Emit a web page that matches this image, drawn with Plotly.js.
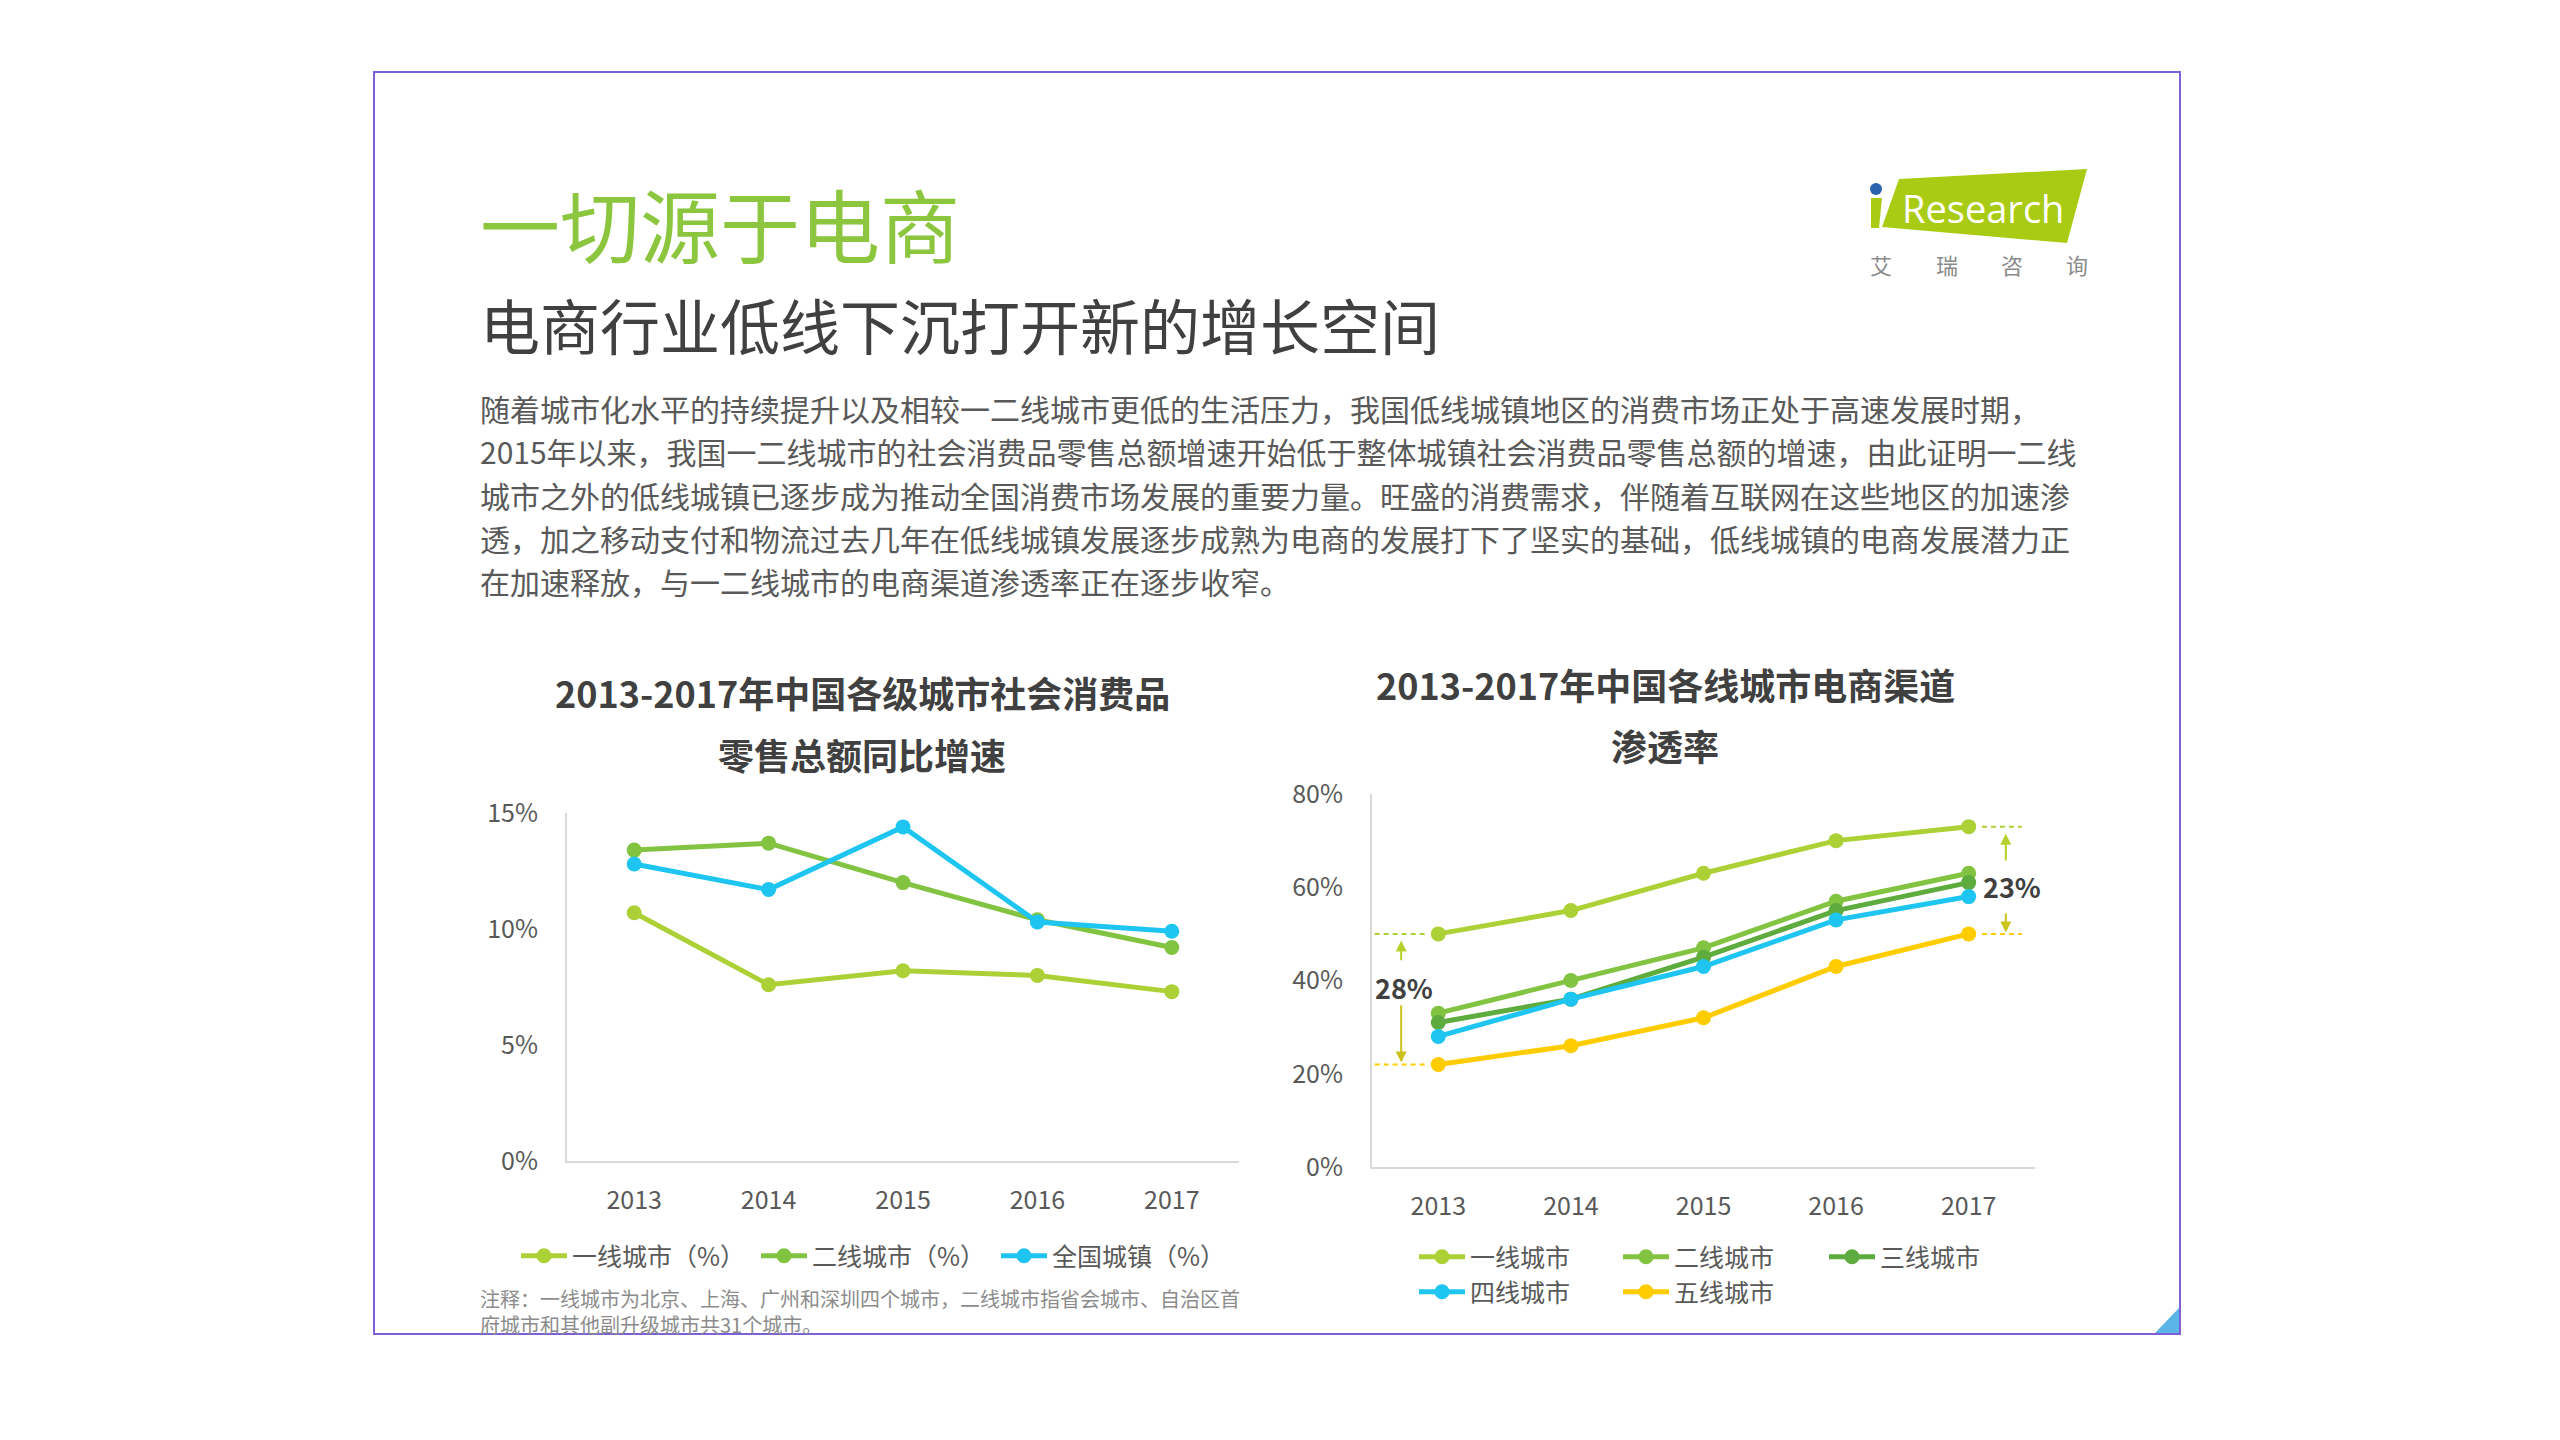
<!DOCTYPE html>
<html>
<head>
<meta charset="utf-8">
<script src="https://cdn.plot.ly/plotly-3.0.1.min.js"></script>
<style>
html,body{margin:0;padding:0;background:#ffffff;}
#chart{width:2560px;height:1440px;}
</style>
</head>
<body>
<div id="chart"></div>
<script>
// ---------- data ----------
const years = ['2013', '2014', '2015', '2016', '2017'];

// left chart: retail sales YoY growth (%)
const retailNames = ['一线城市（%）', '二线城市（%）', '全国城镇（%）'];
const retailTier1 = [10.7, 7.6, 8.2, 8.0, 7.3];
const retailTier2 = [13.4, 13.7, 12.0, 10.4, 9.2];
const retailNational = [12.8, 11.7, 14.4, 10.3, 9.9];

// right chart: e-commerce channel penetration (%)
const penNames = ['一线城市', '二线城市', '三线城市', '四线城市', '五线城市'];
const penTier1 = [50, 55, 63, 70, 73];
const penTier2 = [33, 40, 47, 57, 63];
const penTier3 = [31, 36, 45, 55, 61];
const penTier4 = [28, 36, 43, 53, 58];
const penTier5 = [22, 26, 32, 43, 50];

const leftTicks = [0, 5, 10, 15];
const rightTicks = [0, 20, 40, 60, 80];

// ---------- text ----------
const mainTitle = '一切源于电商';
const subTitle = '电商行业低线下沉打开新的增长空间';
const paragraph = [
  '随着城市化水平的持续提升以及相较一二线城市更低的生活压力，我国低线城镇地区的消费市场正处于高速发展时期，',
  '2015年以来，我国一二线城市的社会消费品零售总额增速开始低于整体城镇社会消费品零售总额的增速，由此证明一二线',
  '城市之外的低线城镇已逐步成为推动全国消费市场发展的重要力量。旺盛的消费需求，伴随着互联网在这些地区的加速渗',
  '透，加之移动支付和物流过去几年在低线城镇发展逐步成熟为电商的发展打下了坚实的基础，低线城镇的电商发展潜力正',
  '在加速释放，与一二线城市的电商渠道渗透率正在逐步收窄。'
];
const leftTitle = ['2013-2017年中国各级城市社会消费品', '零售总额同比增速'];
const rightTitle = ['2013-2017年中国各线城市电商渠道', '渗透率'];
const footnote = [
  '注释：一线城市为北京、上海、广州和深圳四个城市，二线城市指省会城市、自治区首',
  '府城市和其他副升级城市共31个城市。'
];
const logoChars = ['艾', '瑞', '咨', '询'];

// ---------- helpers ----------
const W = 2560, H = 1440;
const X = v => v / W;
const Y = v => 1 - v / H;
const FONT = '"Noto Sans CJK SC", "Noto Sans", sans-serif';

const C1 = '#acd136', C2 = '#82c341', C3 = '#5eab3e', C4 = '#1ec5f0', C5 = '#ffcc00';

function mkTrace(y, name, color, xa, ya, legend) {
  return {
    x: years, y: y, name: name, type: 'scatter', mode: 'lines+markers',
    xaxis: xa, yaxis: ya, legend: legend,
    line: {color: color, width: 5},
    marker: {color: color, size: 15},
    cliponaxis: false,
    hoverinfo: 'skip'
  };
}

const data = [
  mkTrace(retailTier1, retailNames[0], C1, 'x', 'y', 'legend'),
  mkTrace(retailTier2, retailNames[1], C2, 'x', 'y', 'legend2'),
  mkTrace(retailNational, retailNames[2], C4, 'x', 'y', 'legend3'),
  mkTrace(penTier1, penNames[0], C1, 'x2', 'y2', 'legend4'),
  mkTrace(penTier2, penNames[1], C2, 'x2', 'y2', 'legend5'),
  mkTrace(penTier3, penNames[2], C3, 'x2', 'y2', 'legend6'),
  mkTrace(penTier4, penNames[3], C4, 'x2', 'y2', 'legend7'),
  mkTrace(penTier5, penNames[4], C5, 'x2', 'y2', 'legend8')
];

function mkLegend(sx, cy) {
  return {
    x: X(sx), xanchor: 'left', y: Y(cy), yanchor: 'middle',
    orientation: 'h', bgcolor: 'rgba(0,0,0,0)', borderwidth: 0,
    font: {family: FONT, size: 25, color: '#595959'},
    itemwidth: 46
  };
}

const axisCommon = {
  showline: true, linecolor: '#d9d9d9', linewidth: 2,
  showgrid: false, zeroline: false, ticks: '',
  tickfont: {family: FONT, size: 25, color: '#595959'},
  fixedrange: true
};

const annotations = [];
function txt(x, y, text, size, color, opts) {
  annotations.push(Object.assign({
    xref: 'paper', yref: 'paper', x: X(x), y: Y(y), text: text,
    showarrow: false, xanchor: 'left', yanchor: 'middle',
    font: {family: FONT, size: size, color: color}
  }, opts || {}));
}

txt(478, 222, mainTitle, 80, '#8cc63f');
txt(478, 323, subTitle, 60, '#404040');
const paraY = [408, 451, 495, 538, 581];
paragraph.forEach((l, i) => txt(478, paraY[i], l, 30, '#595959'));
txt(862, 692, '<b>' + leftTitle[0] + '</b>', 36, '#404040', {xanchor: 'center'});
txt(862, 754, '<b>' + leftTitle[1] + '</b>', 36, '#404040', {xanchor: 'center'});
txt(1665, 684, '<b>' + rightTitle[0] + '</b>', 36, '#404040', {xanchor: 'center'});
txt(1665, 745, '<b>' + rightTitle[1] + '</b>', 36, '#404040', {xanchor: 'center'});
txt(478, 1311, footnote.join('<br>'), 20, '#8c8c8c', {align: 'left'});

// logo text
txt(1983, 208, 'Research', 38, '#ffffff', {xanchor: 'center', font: {family: '"Open Sans", sans-serif', size: 38, color: '#ffffff'}});
const logoX = [1881, 1947, 2012, 2077];
logoChars.forEach((c, i) => txt(logoX[i], 264, c, 22, '#8a8a8a', {xanchor: 'center'}));

// gap annotations in right chart (derived from data)
const gapStart = penTier1[0] - penTier5[0];
const gapEnd = penTier1[4] - penTier5[4];
const upCol = '#b7cf2b', downCol = '#cbc21c';
function arrow(x, yHead, yTail, col) {
  annotations.push({
    xref: 'x2', yref: 'y2', axref: 'x2', ayref: 'y2',
    x: x, y: yHead, ax: x, ay: yTail, text: '',
    showarrow: true, arrowhead: 2, arrowsize: 1.1, arrowwidth: 2, arrowcolor: col
  });
}
arrow(-0.28, penTier1[0] - 1.4, penTier1[0] - 6, upCol);
arrow(-0.28, penTier5[0] + 0.4, penTier5[0] + 13, downCol);
annotations.push({
  xref: 'x2', yref: 'y2', x: -0.26, y: (penTier1[0] + penTier5[0]) / 2 + 2.6,
  text: '<b>' + gapStart + '%</b>', showarrow: false, xanchor: 'center', yanchor: 'middle',
  font: {family: FONT, size: 27, color: '#404040'}
});
arrow(4.28, penTier1[4] - 1.5, penTier1[4] - 7.6, upCol);
arrow(4.28, penTier5[4] + 0.3, penTier5[4] + 4.7, downCol);
annotations.push({
  xref: 'x2', yref: 'y2', x: 4.33, y: (penTier1[4] + penTier5[4]) / 2 - 1.3,
  text: '<b>' + gapEnd + '%</b>', showarrow: false, xanchor: 'center', yanchor: 'middle',
  font: {family: FONT, size: 27, color: '#404040'}
});

function pth(pts) {
  return 'M ' + pts.map(p => X(p[0]) + ',' + Y(p[1])).join(' L ') + ' Z';
}

const shapes = [
  // frame
  {type: 'rect', xref: 'paper', yref: 'paper', x0: X(374), x1: X(2180), y0: Y(1334), y1: Y(72),
   line: {color: '#7d5fd8', width: 2}, fillcolor: 'rgba(0,0,0,0)'},
  // corner triangle
  {type: 'path', xref: 'paper', yref: 'paper', path: pth([[2155, 1333], [2179, 1308], [2179, 1333]]),
   fillcolor: '#5ab4e5', line: {width: 0}},
  // logo
  {type: 'path', xref: 'paper', yref: 'paper', path: pth([[1899, 179], [2087, 169], [2067, 243], [1882, 227]]),
   fillcolor: '#aacb13', line: {width: 0}},
  {type: 'path', xref: 'paper', yref: 'paper', path: pth([[1871, 198], [1882, 198], [1879, 228], [1871, 228]]),
   fillcolor: '#aacb13', line: {width: 0}},
  {type: 'circle', xref: 'paper', yref: 'paper', x0: X(1870), x1: X(1882), y0: Y(195), y1: Y(183),
   fillcolor: '#2a62ad', line: {width: 0}},
  // dashed guide lines at gap endpoints (from data)
  {type: 'line', xref: 'x2', yref: 'y2', x0: -0.48, x1: -0.1, y0: penTier1[0], y1: penTier1[0],
   line: {color: C1, width: 2, dash: '5px,4px'}},
  {type: 'line', xref: 'x2', yref: 'y2', x0: -0.48, x1: -0.1, y0: penTier5[0], y1: penTier5[0],
   line: {color: C5, width: 2, dash: '5px,4px'}},
  {type: 'line', xref: 'x2', yref: 'y2', x0: 4.1, x1: 4.4, y0: penTier1[4], y1: penTier1[4],
   line: {color: C1, width: 2, dash: '5px,4px'}},
  {type: 'line', xref: 'x2', yref: 'y2', x0: 4.1, x1: 4.4, y0: penTier5[4], y1: penTier5[4],
   line: {color: C5, width: 2, dash: '5px,4px'}}
];

const layout = {
  width: W, height: H,
  margin: {l: 0, r: 0, t: 0, b: 0},
  paper_bgcolor: '#ffffff', plot_bgcolor: 'rgba(0,0,0,0)',
  font: {family: FONT, color: '#595959'},
  showlegend: true,
  xaxis: Object.assign({}, axisCommon, {
    domain: [X(567), X(1239)], anchor: 'y', type: 'category',
    range: [-0.5, 4.5], ticklabelstandoff: 16
  }),
  yaxis: Object.assign({}, axisCommon, {
    domain: [Y(1161), Y(813)], anchor: 'x', range: [0, 15],
    tickvals: leftTicks, ticktext: leftTicks.map(v => v + '%'), ticklabelstandoff: 22
  }),
  xaxis2: Object.assign({}, axisCommon, {
    domain: [X(1372), X(2035)], anchor: 'y2', type: 'category',
    range: [-0.5, 4.5], ticklabelstandoff: 16
  }),
  yaxis2: Object.assign({}, axisCommon, {
    domain: [Y(1167), Y(794)], anchor: 'x2', range: [0, 80],
    tickvals: rightTicks, ticktext: rightTicks.map(v => v + '%'), ticklabelstandoff: 22
  }),
  legend: mkLegend(516, 1256),
  legend2: mkLegend(756, 1256),
  legend3: mkLegend(996, 1256),
  legend4: mkLegend(1414, 1257),
  legend5: mkLegend(1618, 1257),
  legend6: mkLegend(1824, 1257),
  legend7: mkLegend(1414, 1292),
  legend8: mkLegend(1618, 1292),
  annotations: annotations,
  shapes: shapes
};

Plotly.newPlot('chart', data, layout, {staticPlot: true, displayModeBar: false});
</script>
</body>
</html>
